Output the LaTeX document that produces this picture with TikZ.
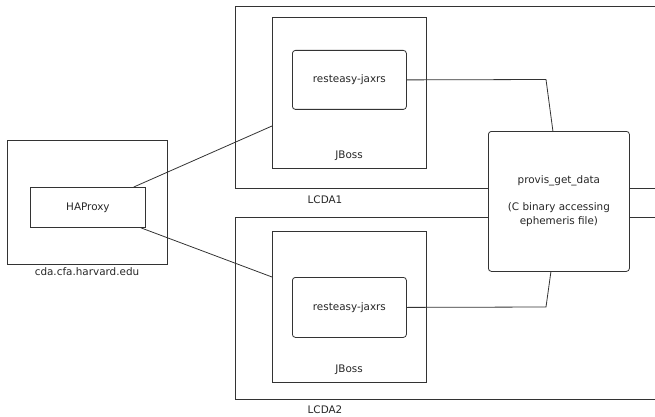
\documentclass[tikz,border=0pt]{standalone}
\usepackage{fontspec}
\setmainfont{DejaVu Sans}
\usetikzlibrary{calc}
\begin{document}
\begin{tikzpicture}[x=1pt,y=-1pt,
  every node/.style={font=\fontsize{10.4}{14}\selectfont, text=black!85},
  box/.style={draw=black!80, line width=0.8pt, anchor=north west, inner sep=0pt, fill=white},
  rbox/.style={box, rounded corners=3pt},
  lab/.style={inner sep=0pt},
  wire/.style={draw=black!80, line width=0.8pt}]
\useasboundingbox (0,0) rectangle (655,417);
\clip (0,0) rectangle (655,417);
% left host
\node[box, minimum width=160, minimum height=124] (host) at (7,140) {};
\node[box, minimum width=115, minimum height=40] (ha) at (30,187) {HAProxy};
\node[lab] (hostlab) at (87,272) {cda.cfa.harvard.edu};
% LCDA1
\node[box, minimum width=440, minimum height=182] (l1) at (235,6) {};
\node[lab] (l1lab) at (325,200) {LCDA1};
\node[box, minimum width=154, minimum height=151] (jb1) at (272,17) {};
\node[lab] (jb1lab) at (349,156) {JBoss};
\node[rbox, minimum width=114, minimum height=59] (re1) at (292,50) {resteasy-jaxrs};
% LCDA2
\node[box, minimum width=440, minimum height=182] (l2) at (235,217) {};
\node[lab] (l2lab) at (325,410) {LCDA2};
\node[box, minimum width=154, minimum height=151] (jb2) at (272,231) {};
\node[lab] (jb2lab) at (349,370) {JBoss};
\node[rbox, minimum width=114, minimum height=60] (re2) at (292,277) {resteasy-jaxrs};
% provis
\node[rbox, minimum width=141, minimum height=140, align=center] (pv) at (488,131)
  {provis\_get\_data\\[13pt](C binary accessing\\ephemeris file)};
% connectors
\coordinate (c1) at (546,79.5);
\coordinate (c2) at (546,307);
\draw[wire] ($(ha.north east)+(-12,0)$) -- ($(jb1.north west)+(0,109)$);
\draw[wire] ($(ha.south east)+(-5,0)$) -- ($(jb2.north west)+(0,46)$);
\draw[wire] (re1.east) -- (c1) -- ($(pv.north)+(-6,0)$);
\draw[wire] (re2.east) -- (c2) -- ($(pv.south)+(-8,0)$);
\end{tikzpicture}
\end{document}
